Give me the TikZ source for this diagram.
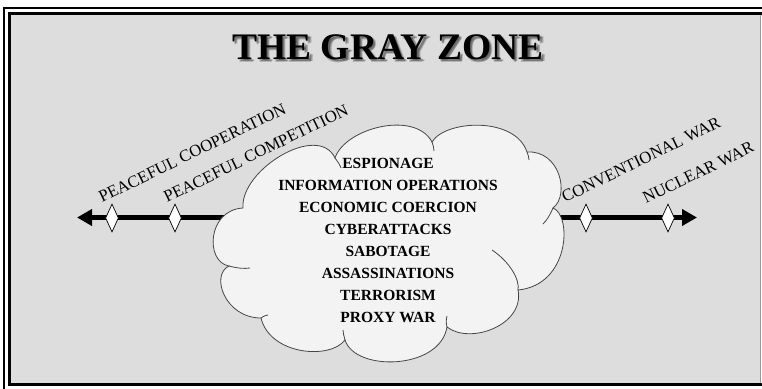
\documentclass[tikz,border=0pt]{standalone}
\usepackage{fontspec}
\setmainfont{Liberation Serif}
\usetikzlibrary{arrows.meta,shapes.geometric}
\definecolor{bggray}{RGB}{221,221,221}
\definecolor{cloudfill}{RGB}{243,243,243}
\definecolor{cloudline}{RGB}{70,70,70}
\begin{document}
\begin{tikzpicture}[x=1pt,y=-1pt,
  stagemark/.style={diamond,draw=black,fill=white,line width=0.7pt,inner sep=0pt,minimum width=13pt,minimum height=28pt},
  lab/.style={font=\fontsize{16.8}{19}\selectfont,rotate=26,anchor=base west,inner sep=0pt},
  item/.style={font=\bfseries\fontsize{15.5}{18}\selectfont,anchor=base,inner sep=0pt},
  cloudedge/.style={draw=cloudline,line width=0.8pt},
  titlefont/.style={font=\bfseries\fontsize{37.5}{42}\selectfont,anchor=base,inner sep=0pt},
  shadowtext/.style={titlefont,text=black,opacity=0.18},
]
\useasboundingbox (0,0) rectangle (762,388);
\clip (0,0) rectangle (762,388);
\fill[white] (0,0) rectangle (762,388);
% background panel
\fill[bggray] (11,15) rectangle (760,382.5);
\draw[gray!80,line width=0.6pt] (760,15) -- (760,382.5);
% frames
\draw[line width=3pt] (800,13.5) -- (9.5,13.5) -- (9.5,384.2) -- (800,384.2);
\draw[line width=2.5pt] (800,8) -- (4,8) -- (4,420);
% title with soft shadow
\node[shadowtext] (ts1) at (389.5,60.5) {THE GRAY ZONE};
\node[shadowtext] (ts2) at (390.5,61.5) {THE GRAY ZONE};
\node[shadowtext] (ts3) at (391.5,61) {THE GRAY ZONE};
\node[shadowtext] (ts4) at (390,62.5) {THE GRAY ZONE};
\node[titlefont] (title) at (388,59) {THE GRAY ZONE};
% axis
\coordinate (L) at (77,217.5);
\coordinate (R) at (697,217.5);
\draw[line width=5pt,{Triangle[length=15pt,width=16pt]}-{Triangle[length=15pt,width=16pt]}] (L) -- (R);
\node[stagemark] (d1) at (112,218) {};
\node[stagemark] (d2) at (175,218) {};
\node[stagemark] (d3) at (586,218) {};
\node[stagemark] (d4) at (668,218) {};
% cloud
\path[cloudedge,fill=cloudfill] (229,266)
 .. controls (205,262) and (207,210) .. (243,208)
 .. controls (240,170) and (318,122) .. (335,158)
 .. controls (345,128) and (415,110) .. (432,142)
 .. controls (445,120) and (515,116) .. (527,152)
 .. controls (560,150) and (570,195) .. (553,208)
 .. controls (572,215) and (570,285) .. (518,290)
 .. controls (525,325) and (470,345) .. (447,327)
 .. controls (440,370) and (355,372) .. (345,340)
 .. controls (330,360) and (270,355) .. (261,318)
 .. controls (225,318) and (210,275) .. (229,266) -- cycle;
\draw[cloudedge] (229,266) .. controls (236,268) and (244,269) .. (250,268);
\draw[cloudedge] (335,158) .. controls (338,162) and (340,165) .. (341,168);
\draw[cloudedge] (432,142) .. controls (433,145) and (434,148) .. (434,151);
\draw[cloudedge] (527,152) .. controls (528,155) and (529,157) .. (529,160);
\draw[cloudedge] (553,208) .. controls (550,215) and (547,220) .. (543,224);
\draw[cloudedge] (518,290) .. controls (520,280) and (510,262) .. (492,250);
\draw[cloudedge] (447,327) .. controls (446,323) and (446,320) .. (447,316);
\draw[cloudedge] (345,340) .. controls (344,336) and (343,333) .. (343,330);
\draw[cloudedge] (261,318) .. controls (264,316) and (266,315) .. (268,315);
% cloud contents
\node[item] (t1) at (388,168) {ESPIONAGE};
\node[item] (t2) at (388,190) {INFORMATION OPERATIONS};
\node[item] (t3) at (388,212) {ECONOMIC COERCION};
\node[item] (t4) at (388,234) {CYBERATTACKS};
\node[item] (t5) at (388,256) {SABOTAGE};
\node[item] (t6) at (388,278) {ASSASSINATIONS};
\node[item] (t7) at (388,300) {TERRORISM};
\node[item] (t8) at (388,322) {PROXY WAR};
% stage labels
\node[lab] (l1) at (102,203) {PEACEFUL COOPERATION};
\node[lab] (l2) at (167,203) {PEACEFUL COMPETITION};
\node[lab] (l3) at (565,203) {CONVENTIONAL WAR};
\node[lab] (l4) at (646,204) {NUCLEAR WAR};
\end{tikzpicture}
\end{document}
